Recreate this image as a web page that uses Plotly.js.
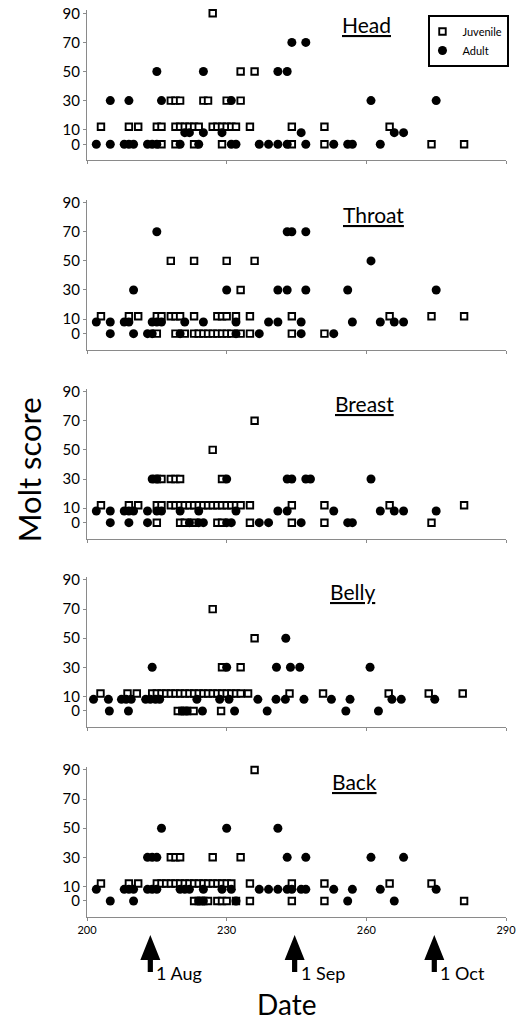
<!DOCTYPE html>
<html>
<head>
<meta charset="utf-8">
<script src="https://cdn.plot.ly/plotly-3.0.1.min.js"></script>
<style>html,body{margin:0;padding:0;background:#fff}#chart{width:522px;height:1022px}</style>
</head>
<body>
<div id="chart"></div>
<script>
// ---- data: each row = [plotted molt score, [days of year]] ----
const regions = ['Head', 'Throat', 'Breast', 'Belly', 'Back'];
const scoreTicks = [0, 10, 30, 50, 70, 90];
const dayTicks = [200, 230, 260, 290];
const monthDays = [213, 244, 274];
const monthLabels = ['1 Aug', '1 Sep', '1 Oct'];

const headJuvenile = [
  [90, [227]],
  [50, [233, 236]],
  [30, [218, 219, 220, 225, 226, 230, 233]],
  [12, [203, 209, 211, 215, 216, 219, 220, 221, 222, 223, 224, 227, 228, 229, 230, 231, 232, 235, 244, 251, 265]],
  [0, [216, 219, 223, 229, 244, 251, 274, 281]]
];
const headAdult = [
  [70, [244, 247]],
  [50, [215, 225, 241, 243]],
  [30, [205, 209, 216, 231, 261, 275]],
  [8, [221, 222, 225, 229, 246, 266, 268]],
  [0, [202, 205, 208, 209, 210, 213, 214, 215, 220, 224, 231, 232, 237, 239, 241, 243, 247, 253, 256, 257, 263]]
];

const throatJuvenile = [
  [50, [218, 223, 230, 236]],
  [30, [233]],
  [12, [203, 209, 211, 215, 216, 218, 219, 220, 223, 228, 229, 230, 232, 235, 244, 265, 274, 281]],
  [0, [215, 219, 221, 223, 224, 225, 226, 227, 228, 229, 230, 231, 233, 235, 244, 251]]
];
const throatAdult = [
  [70, [215, 243, 244, 247]],
  [50, [261]],
  [30, [210, 230, 241, 243, 247, 256, 275]],
  [8, [202, 205, 208, 209, 214, 215, 216, 221, 225, 232, 239, 241, 246, 257, 263, 266, 268]],
  [0, [205, 210, 213, 214, 220, 232, 237, 246, 253]]
];

const breastJuvenile = [
  [70, [236]],
  [50, [227]],
  [30, [215, 216, 218, 219, 220, 229]],
  [12, [203, 209, 211, 215, 216, 218, 219, 220, 221, 222, 223, 224, 225, 226, 227, 228, 229, 230, 231, 232, 233, 235, 244, 251, 265, 281]],
  [0, [215, 220, 221, 223, 228, 229, 235, 244, 251, 274]]
];
const breastAdult = [
  [30, [214, 215, 230, 243, 244, 247, 248, 261]],
  [8, [202, 205, 208, 209, 210, 213, 215, 216, 220, 224, 232, 241, 243, 253, 263, 266, 268, 275]],
  [0, [205, 209, 213, 222, 224, 225, 230, 231, 237, 239, 246, 256, 257]]
];

const bellyJuvenile = [
  [70, [227]],
  [50, [236]],
  [30, [229, 233]],
  [12, [202.9, 208.7, 210.7, 214, 215, 216, 217, 218, 219, 220, 221, 222, 223, 224, 225, 226, 227, 228, 229, 230, 231, 232, 233, 234.6, 243.5, 250.7, 264.8, 273.4, 280.7]],
  [0, [219.5, 220.5, 221.5, 222.9, 228.8]]
];
const bellyAdult = [
  [50, [242.7]],
  [30, [214, 230, 240.7, 243.7, 245.7, 260.8]],
  [8, [201.4, 204.6, 207.4, 208.4, 209.5, 212.6, 213.6, 214.7, 215.6, 223.6, 228.5, 230.5, 236.7, 240.6, 242.6, 246.6, 252.5, 256.5, 265.5, 267.5, 274.7]],
  [0, [204.8, 208.9, 220.5, 221.5, 224.8, 231.7, 238.7, 255.6, 262.6]]
];

const backJuvenile = [
  [90, [236]],
  [30, [218, 219, 220, 227, 233]],
  [12, [203, 209, 211, 215, 216, 217, 218, 219, 220, 221, 222, 223, 224, 225, 226, 227, 228, 229, 230, 231, 235, 244, 251, 265, 274]],
  [0, [223, 224, 225, 226, 228, 229, 230, 232, 235, 244, 251, 281]]
];
const backAdult = [
  [50, [216, 230, 241]],
  [30, [213, 214, 215, 243, 247, 261, 268]],
  [8, [202, 208, 209, 210, 213, 214, 215, 220, 221, 222, 225, 229, 231, 237, 239, 241, 243, 244, 246, 247, 253, 257, 263, 275]],
  [0, [205, 210, 224, 225, 232, 256, 266]]
];

const juvenileByRegion = [headJuvenile, throatJuvenile, breastJuvenile, bellyJuvenile, backJuvenile];
const adultByRegion = [headAdult, throatAdult, breastAdult, bellyAdult, backAdult];

// ---- build ----
function expand(rows) {
  const x = [], y = [];
  rows.forEach(([score, days]) => days.forEach(d => { x.push(d); y.push(score); }));
  return {x, y};
}

const FONT = 'Lato, "Open Sans", sans-serif';
const AXIS_GREY = '#8a8a8a';
const domains = [[0.8343, 0.9996], [0.6255, 0.7908], [0.4171, 0.5824], [0.2095, 0.3748], [0, 0.1653]];
const titleX = [260.1, 261.6, 259.5, 257.1, 257.4];

const traces = [];
const layout = {
  width: 522, height: 1022,
  margin: {l: 87, r: 16, t: 10, b: 105},
  paper_bgcolor: '#fff', plot_bgcolor: '#fff',
  font: {family: FONT, color: '#000'},
  showlegend: true,
  legend: {
    x: 0.815, y: 0.9945, xanchor: 'left', yanchor: 'top',
    bgcolor: '#fff', bordercolor: '#000', borderwidth: 2,
    font: {family: FONT, size: 11, color: '#000'},
    itemwidth: 30, tracegroupgap: 0, indentation: -8
  },
  annotations: [],
  shapes: []
};

regions.forEach((name, i) => {
  const n = i === 0 ? '' : String(i + 1);
  const xa = 'x' + n, ya = 'y' + n;
  const juv = expand(juvenileByRegion[i]);
  const adu = expand(adultByRegion[i]);
  traces.push({
    type: 'scatter', mode: 'markers', name: 'Juvenile', xaxis: xa, yaxis: ya,
    x: juv.x, y: juv.y, showlegend: i === 0, legendgroup: 'j', cliponaxis: false,
    marker: {symbol: 'square', size: 6.5, color: '#fff', line: {color: '#000', width: 1.9}}
  });
  traces.push({
    type: 'scatter', mode: 'markers', name: 'Adult', xaxis: xa, yaxis: ya,
    x: adu.x, y: adu.y, showlegend: i === 0, legendgroup: 'a', cliponaxis: false,
    marker: {symbol: 'circle', size: 9, color: '#000', line: {width: 0}}
  });
  layout['xaxis' + n] = {
    domain: [0, 1], range: [200, 290], anchor: ya, tickvals: dayTicks,
    showticklabels: i === regions.length - 1, ticks: 'outside', ticklen: 3, tickcolor: AXIS_GREY,
    showline: true, linecolor: AXIS_GREY, linewidth: 1, showgrid: false, zeroline: false,
    tickfont: {family: FONT, size: 11, color: '#000'}, fixedrange: true
  };
  if (i > 0) layout['xaxis' + n].matches = 'x';
  layout['yaxis' + n] = {
    domain: domains[i], range: [-11, 92], anchor: xa, tickvals: scoreTicks,
    ticks: 'outside', ticklen: 3, tickcolor: AXIS_GREY,
    showline: true, linecolor: AXIS_GREY, linewidth: 1, showgrid: false, zeroline: false,
    tickfont: {family: FONT, size: 15, color: '#000'}, fixedrange: true
  };
  layout.annotations.push({
    text: '<u>' + name + '</u>', xref: xa, yref: ya, x: titleX[i], y: 82,
    showarrow: false, font: {family: FONT, size: 21, color: '#000'}, xanchor: 'center', yanchor: 'middle'
  });
});

// month arrows under the bottom axis
const arrowTipY = -0.0198;  // paper units, just below the axis labels
monthDays.forEach((d, k) => {
  layout.shapes.push({
    type: 'path', xref: 'x5', yref: 'paper',
    xsizemode: 'pixel', ysizemode: 'pixel', xanchor: d + 0.6, yanchor: arrowTipY,
    path: 'M0,0 L10,-25 L2.6,-25 L2.6,-37 L-2.6,-37 L-2.6,-25 L-10,-25 Z',
    fillcolor: '#000', line: {width: 0}
  });
  layout.annotations.push({
    text: monthLabels[k], xref: 'x5', yref: 'paper', x: d + 0.6, y: -0.0617,
    xanchor: 'left', yanchor: 'middle', xshift: 4, showarrow: false,
    font: {family: FONT, size: 18, color: '#000'}
  });
});

layout.annotations.push({
  text: 'Molt score', xref: 'paper', yref: 'paper', x: -0.138, y: 0.4928,
  textangle: -90, showarrow: false, xanchor: 'center', yanchor: 'middle',
  font: {family: FONT, size: 31, color: '#000'}
});
layout.annotations.push({
  text: 'Date', xref: 'paper', yref: 'paper', x: 0.4768, y: -0.0955,
  showarrow: false, xanchor: 'center', yanchor: 'middle',
  font: {family: FONT, size: 28, color: '#000'}
});

Plotly.newPlot('chart', traces, layout, {displayModeBar: false, staticPlot: true});
</script>
</body>
</html>
